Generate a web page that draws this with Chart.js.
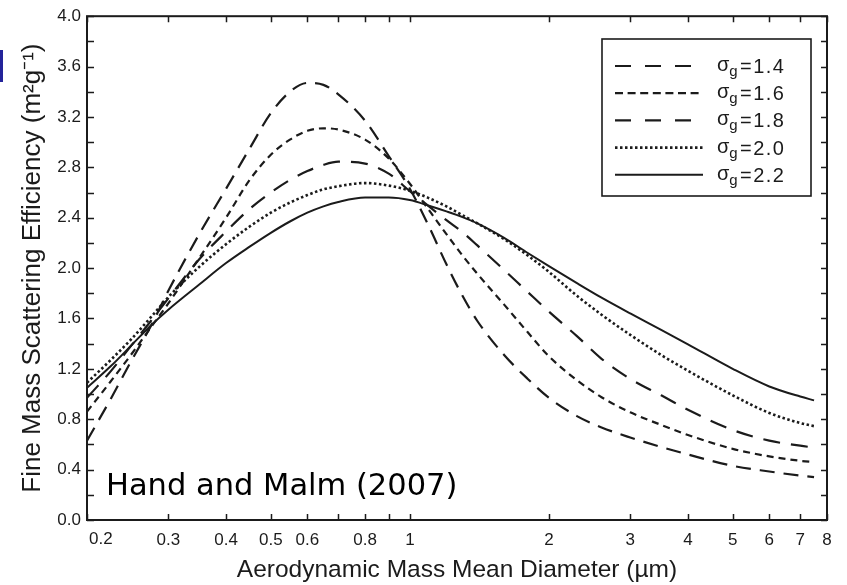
<!DOCTYPE html>
<html>
<head>
<meta charset="utf-8">
<title>Fine Mass Scattering Efficiency</title>
<script src="https://cdn.jsdelivr.net/npm/chart.js@4.4.1/dist/chart.umd.min.js"></script>
<style>
  html, body { margin: 0; padding: 0; background: #ffffff; }
  canvas { display: block; }
</style>
</head>
<body>
<canvas id="chart" width="847" height="585"></canvas>
<script>
// Aerodynamic mass mean diameter (µm)
const diameters = [0.2, 0.225, 0.25, 0.275, 0.3, 0.35, 0.4, 0.45, 0.5, 0.55, 0.6, 0.65, 0.7, 0.8, 0.9,
                   1.0, 1.1, 1.2, 1.3, 1.4, 1.6, 1.8, 2.0, 2.3, 2.6, 3.0, 3.5, 4.0, 5.0, 6.0, 7.0, 7.5];

// Fine mass scattering efficiency (m² g⁻¹), one list per geometric standard deviation
const effSg14 = [0.63, 0.96, 1.27, 1.54, 1.82, 2.27, 2.63, 2.95, 3.23, 3.40, 3.47, 3.455, 3.38, 3.17, 2.89,
                 2.63, 2.33, 2.03, 1.78, 1.58, 1.31, 1.12, 0.97, 0.825, 0.735, 0.655, 0.58, 0.52, 0.43, 0.385, 0.352, 0.34];
const effSg16 = [0.86, 1.10, 1.32, 1.53, 1.72, 2.08, 2.40, 2.70, 2.90, 3.02, 3.09, 3.11, 3.10, 3.02, 2.87,
                 2.67, 2.46, 2.27, 2.10, 1.955, 1.71, 1.49, 1.30, 1.11, 0.975, 0.855, 0.755, 0.675, 0.565, 0.505, 0.47, 0.46];
const effSg18 = [0.97, 1.18, 1.39, 1.58, 1.76, 2.07, 2.29, 2.47, 2.60, 2.70, 2.77, 2.82, 2.845, 2.83, 2.75,
                 2.61, 2.49, 2.38, 2.285, 2.18, 1.985, 1.81, 1.655, 1.46, 1.28, 1.12, 0.99, 0.875, 0.715, 0.63, 0.59, 0.575];
const effSg20 = [1.09, 1.27, 1.44, 1.61, 1.77, 2.01, 2.19, 2.33, 2.44, 2.52, 2.58, 2.625, 2.65, 2.675, 2.655,
                 2.615, 2.555, 2.49, 2.42, 2.355, 2.23, 2.10, 1.97, 1.78, 1.63, 1.47, 1.31, 1.185, 0.99, 0.85, 0.77, 0.745];
const effSg22 = [1.05, 1.22, 1.39, 1.545, 1.67, 1.87, 2.04, 2.17, 2.28, 2.37, 2.44, 2.49, 2.525, 2.56, 2.56,
                 2.54, 2.495, 2.45, 2.405, 2.355, 2.24, 2.12, 2.015, 1.88, 1.765, 1.64, 1.51, 1.395, 1.20, 1.06, 0.98, 0.95];

const sigmaLabels = ['1.4', '1.6', '1.8', '2.0', '2.2'];

// Axis ticks
const xTickValues = [0.2, 0.3, 0.4, 0.5, 0.6, 0.7, 0.8, 0.9, 1, 2, 3, 4, 5, 6, 7, 8];
const xTickLabels = ['0.2', '0.3', '0.4', '0.5', '0.6', '', '0.8', '', '1', '2', '3', '4', '5', '6', '7', '8'];
const yTickValues = [0, 0.2, 0.4, 0.6, 0.8, 1.0, 1.2, 1.4, 1.6, 1.8, 2.0, 2.2, 2.4, 2.6, 2.8, 3.0, 3.2, 3.4, 3.6, 3.8, 4.0];
const yTickLabels = ['0.0', '', '0.4', '', '0.8', '', '1.2', '', '1.6', '', '2.0', '', '2.4', '', '2.8', '', '3.2', '', '3.6', '', '4.0'];

const INK = '#1b1b1b';
const FONT = "'Liberation Sans', Arial, Helvetica, sans-serif";

// stroke style of each curve, and of its sample in the key
const lineStyles = [
  { dash: [15, 9],    keyDash: [16, 14], width: 2.2 },
  { dash: [7, 5],     keyDash: [8, 4.6], width: 2.2 },
  { dash: [17, 11],   keyDash: [16, 14], width: 2.2 },
  { dash: [2.5, 2.5], keyDash: [2.5, 2.5], width: 2.6 },
  { dash: [],         keyDash: [], width: 2.0 }
];

const seriesValues = [effSg14, effSg16, effSg18, effSg20, effSg22];

const datasets = seriesValues.map((vals, i) => ({
  label: 'σg=' + sigmaLabels[i],
  sigma: sigmaLabels[i],
  keyDash: lineStyles[i].keyDash,
  data: diameters.map((d, j) => ({ x: d, y: vals[j] })),
  borderColor: INK,
  borderWidth: lineStyles[i].width,
  borderDash: lineStyles[i].dash,
  borderCapStyle: 'butt',
  pointRadius: 0,
  fill: false,
  cubicInterpolationMode: 'monotone'
}));

// Frame, inward tick marks, the left-aligned first x label, key box and citation
const decorations = {
  id: 'decorations',
  afterDatasetsDraw(chart) {
    const { ctx, chartArea: a, scales } = chart;
    const xs = scales.x, ys = scales.y;
    ctx.save();

    // tick marks pointing into the plot on all four sides
    ctx.strokeStyle = INK;
    ctx.lineWidth = 1.5;
    ctx.setLineDash([]);
    ctx.beginPath();
    xTickValues.forEach(v => {
      const px = Math.round(xs.getPixelForValue(v)) + 0.5;
      ctx.moveTo(px, a.bottom); ctx.lineTo(px, a.bottom - 6);
      ctx.moveTo(px, a.top);    ctx.lineTo(px, a.top + 6);
    });
    yTickValues.forEach(v => {
      const py = Math.round(ys.getPixelForValue(v)) + 0.5;
      ctx.moveTo(a.left, py);  ctx.lineTo(a.left + 7, py);
      ctx.moveTo(a.right, py); ctx.lineTo(a.right - 6, py);
    });
    ctx.stroke();

    // plot frame
    ctx.lineWidth = 2;
    ctx.strokeRect(a.left, a.top, a.right - a.left, a.bottom - a.top);

    // first x label sits just inside the left axis
    ctx.fillStyle = INK;
    ctx.font = '17px ' + FONT;
    ctx.textAlign = 'left';
    ctx.textBaseline = 'top';
    ctx.fillText(xTickLabels[0], xs.getPixelForValue(xTickValues[0]) + 2, a.bottom + 11);

    // key
    const box = { left: 602, top: 39, right: 811, bottom: 196 };
    ctx.fillStyle = '#ffffff';
    ctx.fillRect(box.left, box.top, box.right - box.left, box.bottom - box.top);
    ctx.lineWidth = 1.6;
    ctx.strokeStyle = INK;
    ctx.strokeRect(box.left, box.top, box.right - box.left, box.bottom - box.top);
    chart.data.datasets.forEach((ds, i) => {
      const cy = 66 + i * 27.2;
      ctx.beginPath();
      ctx.lineWidth = ds.borderWidth;
      ctx.setLineDash(ds.keyDash);
      ctx.lineCap = 'butt';
      ctx.moveTo(615, cy); ctx.lineTo(703, cy);
      ctx.stroke();
      ctx.setLineDash([]);
      ctx.fillStyle = INK;
      ctx.textAlign = 'left';
      ctx.textBaseline = 'alphabetic';
      ctx.font = '20px ' + FONT;
      let x = 717;
      ctx.fillText('σ', x, cy + 5);
      x += ctx.measureText('σ').width;
      ctx.font = '15px ' + FONT;
      ctx.fillText('g', x, cy + 10);
      x = 740;
      ctx.font = '20px ' + FONT;
      ctx.letterSpacing = '1.5px';
      ctx.fillText('=' + ds.sigma, x, cy + 7);
      ctx.letterSpacing = '0px';
    });

    // citation
    ctx.fillStyle = '#000000';
    ctx.font = "30.5px 'DejaVu Sans', Verdana, sans-serif";
    ctx.textAlign = 'left';
    ctx.textBaseline = 'alphabetic';
    ctx.fillText('Hand and Malm (2007)', 106, 495);

    // edge of a neighbouring text box
    ctx.fillStyle = '#23239a';
    ctx.fillRect(0, 50, 3, 32);

    ctx.restore();
  }
};

new Chart(document.getElementById('chart'), {
  type: 'line',
  data: { datasets },
  plugins: [decorations],
  options: {
    responsive: false,
    animation: false,
    events: [],
    layout: { padding: { top: 14, right: 20, left: 0, bottom: 0 } },
    plugins: { legend: { display: false }, tooltip: { enabled: false } },
    scales: {
      x: {
        type: 'logarithmic',
        min: 0.2,
        max: 8,
        afterBuildTicks: s => { s.ticks = xTickValues.map(v => ({ value: v })); },
        afterFit: s => { s.height = 65; },
        grid: { display: false, drawTicks: false },
        border: { display: false },
        ticks: {
          autoSkip: false,
          maxRotation: 0,
          padding: 10,
          color: INK,
          font: { family: FONT, size: 17 },
          callback: (v, i) => (i === 0 ? '' : xTickLabels[i])
        },
        title: {
          display: true,
          text: 'Aerodynamic Mass Mean Diameter (µm)',
          color: INK,
          font: { family: FONT, size: 24.5 },
          padding: { top: 0, bottom: 0 }
        }
      },
      y: {
        type: 'linear',
        min: 0,
        max: 4,
        afterBuildTicks: s => { s.ticks = yTickValues.map(v => ({ value: v })); },
        afterFit: s => { s.width = 87; },
        grid: { display: false, drawTicks: false },
        border: { display: false },
        ticks: {
          autoSkip: false,
          padding: 6,
          color: INK,
          font: { family: FONT, size: 17 },
          callback: (v, i) => yTickLabels[i]
        },
        title: {
          display: true,
          text: 'Fine Mass Scattering Efficiency (m²g⁻¹)',
          color: INK,
          font: { family: FONT, size: 26 },
          padding: { top: 17, bottom: 0 }
        }
      }
    }
  }
});
</script>
</body>
</html>
